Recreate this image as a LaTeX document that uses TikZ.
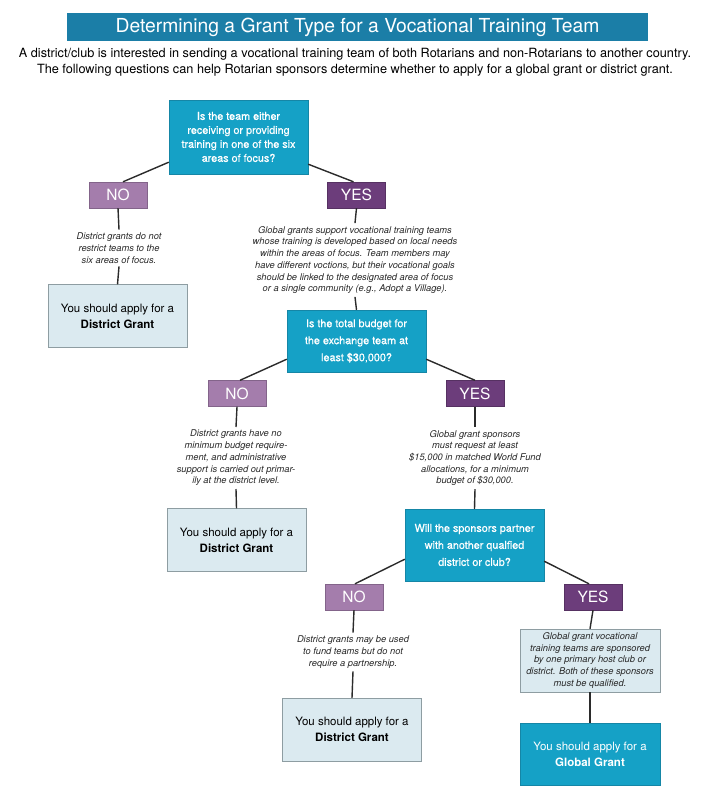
\documentclass[tikz,border=0pt]{standalone}
\usepackage{fontspec}
\setmainfont{TeX Gyre Heros}
\definecolor{titleblue}{HTML}{1B7EA7}
\definecolor{askcyan}{HTML}{15A1C6}
\definecolor{askedge}{HTML}{1586A6}
\definecolor{nopurple}{HTML}{A47DAC}
\definecolor{yespurple}{HTML}{6C3D7B}
\definecolor{paleblue}{HTML}{DBEAF0}
\definecolor{paleedge}{HTML}{8E9DA2}
\definecolor{linkgray}{HTML}{2B2B2B}
\begin{document}
\begin{tikzpicture}[x=1pt,y=-1pt,
		askbox/.style={draw=askedge,fill=askcyan,text=white,minimum width=139pt,inner sep=0pt,align=center,font=\fontsize{10.8}{17}\selectfont\addfontfeature{FakeBold=0.6}},
		nobox/.style={draw=nopurple!80!black,fill=nopurple,text=white,minimum width=58pt,minimum height=26pt,inner sep=0pt,font=\fontsize{15.5}{17}\selectfont},
		yesbox/.style={nobox,draw=yespurple!80!black,fill=yespurple},
		notetext/.style={text=black!85,align=center,inner sep=3pt,font=\fontsize{9.3}{11.7}\selectfont\itshape},
		districtbox/.style={draw=paleedge,fill=paleblue,minimum width=139pt,minimum height=63pt,inner sep=0pt,align=center,font=\fontsize{11.5}{16}\selectfont},
		globalbox/.style={districtbox,draw=askedge,fill=askcyan,text=white},
		link/.style={draw=linkgray,line width=1.4pt}]
	\useasboundingbox (0,0) rectangle (709,800);
	% heading
	\node[fill=titleblue,text=white,minimum width=581pt,minimum height=28pt,inner sep=0pt,font=\fontsize{19.3}{21}\selectfont] (title) at (357.5,27) {Determining a Grant Type for a Vocational Training Team};
	\node[align=center,inner sep=0pt,font=\fontsize{12.7}{16}\selectfont] (intro) at (355,62) {A district/club is interested in sending a vocational training team of both Rotarians and non-Rotarians to another country.\\The following questions can help Rotarian sponsors determine whether to apply for a global grant or district grant.};
	% first question
	\node[askbox,minimum height=74pt,font=\fontsize{10.8}{14}\selectfont\addfontfeature{FakeBold=0.6}] (focus) at (238.5,137) {Is the team either\\receiving or providing\\training in one of the six\\areas of focus?};
	\node[nobox] (focusno) at (118,195) {NO};
	\node[yesbox] (focusyes) at (356.5,195) {YES};
	\node[notetext] (focusnonote) at (119,248) {District grants do not\\restrict teams to the\\six areas of focus.};
	\node[districtbox] (district1) at (117.5,316) {You should apply for a\\\textbf{District Grant}};
	\node[notetext] (focusyesnote) at (355,260) {Global grants support vocational training teams\\whose training is developed based on local needs\\within the areas of focus. Team members may\\have different voctions, but their vocational goals\\should be linked to the designated area of focus\\or a single community (e.g., Adopt a Village).};
	% second question
	\node[askbox,minimum height=62pt] (budget) at (356.5,341) {Is the total budget for\\the exchange team at\\least \$30,000?};
	\node[nobox] (budgetno) at (237,393.5) {NO};
	\node[yesbox] (budgetyes) at (475,393.5) {YES};
	\node[notetext] (budgetnonote) at (236,458) {District grants have no\\minimum budget require-\\ment, and administrative\\support is carried out primar-\\ily at the district level.};
	\node[districtbox] (district2) at (236.5,540) {You should apply for a\\\textbf{District Grant}};
	\node[notetext] (budgetyesnote) at (475,458) {Global grant sponsors\\must request at least\\\$15,000 in matched World Fund\\allocations, for a minimum\\budget of \$30,000.};
	% third question
	\node[askbox,minimum height=72pt] (partner) at (474.5,545) {Will the sponsors partner\\with another qualfied\\district or club?};
	\node[nobox] (partnerno) at (354,597) {NO};
	\node[yesbox] (partneryes) at (593,597) {YES};
	\node[notetext] (partnernonote) at (353,652) {District grants may be used\\to fund teams but do not\\require a partnership.};
	\node[districtbox] (district3) at (352,729.5) {You should apply for a\\\textbf{District Grant}};
	\node[notetext,draw=paleedge,fill=paleblue,minimum width=140pt,minimum height=63pt,inner sep=0pt] (partneryesnote) at (590,660.5) {Global grant vocational\\training teams are sponsored\\by one primary host club or\\district. Both of these sponsors\\must be qualified.};
	\node[globalbox,minimum width=140pt,minimum height=62pt] (global) at (590,754) {You should apply for a\\\textbf{Global Grant}};
	% connectors
	\draw[link] ([yshift=12pt]focus.south west) -- ([xshift=5pt]focusno.north);
	\draw[link] ([yshift=10pt]focus.south east) -- ([xshift=-3pt]focusyes.north);
	\draw[link] (focusno.south) -- (focusnonote.north);
	\draw[link] (focusnonote.south) -- (district1.north);
	\draw[link] (focusyes.south) -- (focusyesnote.north);
	\draw[link] (focusyesnote.south) -- (budget.north);
	\draw[link] ([yshift=13pt]budget.south west) -- ([xshift=3pt]budgetno.north);
	\draw[link] ([yshift=13pt]budget.south east) -- (budgetyes.north);
	\draw[link] (budgetno.south) -- (budgetnonote.north);
	\draw[link] (budgetnonote.south) -- (district2.north);
	\draw[link] (budgetyes.south) -- (budgetyesnote.north);
	\draw[link] (budgetyesnote.south) -- (partner.north);
	\draw[link] ([yshift=22pt]partner.south west) -- ([xshift=1pt]partnerno.north);
	\draw[link] ([yshift=20pt]partner.south east) -- ([xshift=-4pt]partneryes.north);
	\draw[link] (partnerno.south) -- (partnernonote.north);
	\draw[link] (partnernonote.south) -- (district3.north);
	\draw[link] (partneryes.south) -- (partneryesnote.north);
	\draw[link] (partneryesnote.south) -- (global.north);
\end{tikzpicture}
\end{document}
